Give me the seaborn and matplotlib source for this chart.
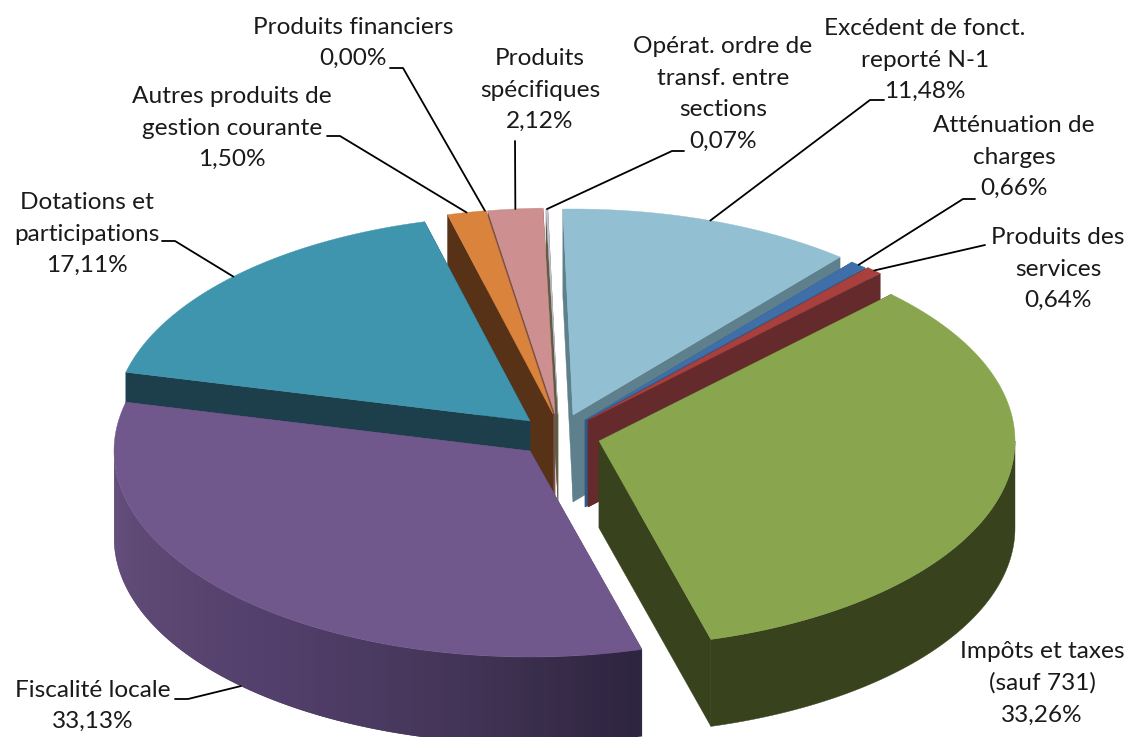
import numpy as np
import seaborn as sns
from matplotlib import pyplot as plt
from matplotlib.patches import Polygon

# Values, clockwise from 12 o'clock
names = ["Excédent de fonct.\nreporté N-1", "Atténuation de\ncharges",
         "Produits des\nservices", "Impôts et taxes\n(sauf 731)",
         "Fiscalité locale", "Dotations et\nparticipations",
         "Autres produits de\ngestion courante", "Produits financiers",
         "Produits\nspécifiques", "Opérat. ordre de\ntransf. entre\nsections"]
shares = [11.48, 0.66, 0.64, 33.26, 33.13, 17.11, 1.50, 0.00, 2.12, 0.07]

top_colors = ["#92C0D2", "#3F6FA8", "#A8403E", "#89A54E", "#71588C",
              "#4095AE", "#D9833C", "#8A8A9A", "#CD8F8F", "#C9BEDD"]
wall_colors = ["#5E808C", "#335A87", "#652A2B", "#38421D", "#5D4873",
               "#1C3F4B", "#573217", "#4A4D62", "#7A5050", "#5C5F40"]
purple_wall = ["#655080", "#5D4873", "#533F6C", "#453659", "#2E2540"]

# Pie layout, in pixels of the 1128x737 picture
center_x, center_y = 553, 425
radius_x, radius_y = 416, 206
thickness = 87
start_angle = -1.4
explode_x = [20, 32, 35, 46, -23, -23, 0, -1, 2, 5]
explode_y = [-10, -5, -5, 16, 26, -4, -11, -11, -11, -10]
# back to front
draw_order = [0, 1, 2, 9, 8, 7, 6, 5, 4, 3]

# label centre and the elbow of the leader line (None = straight)
label_x = [925, 1014, 1058, 1042, 93, 87, 232, 353, 540, 723]
label_y = [60, 157, 269, 683, 706, 234, 128, 43, 90, 94]
leader_start = [(884, 100), (975, 199), (985, 245), None, (175, 699),
                (162, 241), (327, 136), (390, 68), (515, 141), (684, 151)]
leader_elbow = [(870, 100), (963, 199), None, None, (188, 699),
                (175, 241), (340, 136), (403, 68), None, (672, 151)]


def edge_point(i, theta, drop=0.0):
    x = center_x + explode_x[i] + radius_x * np.sin(theta)
    y = center_y + explode_y[i] - radius_y * np.cos(theta) + drop
    return x, y


def wall_band(i, thetas):
    upper = [edge_point(i, t) for t in thetas]
    lower = [edge_point(i, t, thickness) for t in thetas[::-1]]
    return upper + lower


sns.set_theme(style="white")
plt.rcParams['font.family'] = ['Lato', 'DejaVu Sans']

fig = plt.figure(figsize=(11.28, 7.37), dpi=100)
ax = fig.add_axes([0, 0, 1, 1])
ax.set_xlim(0, 1128)
ax.set_ylim(737, 0)
ax.axis('off')

edges = np.radians(start_angle + np.concatenate([[0], np.cumsum(shares)]) / np.sum(shares) * 360)

for i in draw_order:
    t0, t1 = edges[i], edges[i + 1]
    apex = (center_x + explode_x[i], center_y + explode_y[i])
    apex_low = (apex[0], apex[1] + thickness)

    # the two cut faces
    for t in (t0, t1):
        face = [apex, edge_point(i, t), edge_point(i, t, thickness), apex_low]
        ax.add_patch(Polygon(face, facecolor=wall_colors[i], edgecolor=wall_colors[i], lw=0.3))

    # outer wall, front half only
    lo, hi = max(t0, np.pi / 2), min(t1, 3 * np.pi / 2)
    if hi > lo:
        n = max(int(np.degrees(hi - lo)), 1)
        steps = np.linspace(lo, hi, n + 1)
        if i == 4:
            # shaded in bands, each one overlapping the next to hide the seams
            shades = sns.blend_palette(purple_wall, n)[::-1]
            for k in range(n - 1, -1, -1):
                band = wall_band(i, steps[k:min(k + 3, n + 1)])
                ax.add_patch(Polygon(band, facecolor=shades[k], edgecolor='none'))
        else:
            ax.add_patch(Polygon(wall_band(i, steps), facecolor=wall_colors[i],
                                 edgecolor=wall_colors[i], lw=0.3))

    # top of the slice
    arc = np.linspace(t0, t1, max(int(np.degrees(t1 - t0)) * 2, 2))
    outline = [apex] + [edge_point(i, t) for t in arc]
    ax.add_patch(Polygon(outline, facecolor=top_colors[i], edgecolor=top_colors[i], lw=0.3))

# labels and leader lines
for i in range(len(shares)):
    text = names[i] + "\n" + f"{shares[i]:.2f}".replace(".", ",") + "%"
    ax.text(label_x[i], label_y[i], text, ha='center', va='center', fontsize=17.6,
            color='#1a1a1a', linespacing=1.62)
    if leader_start[i] is None:
        continue
    mid = (edges[i] + edges[i + 1]) / 2
    drop = thickness if np.cos(mid) < 0 else 0
    end = edge_point(i, mid, drop)
    pts = [leader_start[i]]
    if leader_elbow[i] is not None:
        pts.append(leader_elbow[i])
    pts.append(end)
    xs, ys = zip(*pts)
    ax.plot(xs, ys, color='black', lw=1.3, solid_joinstyle='round')

plt.savefig("out.png", dpi=100)
